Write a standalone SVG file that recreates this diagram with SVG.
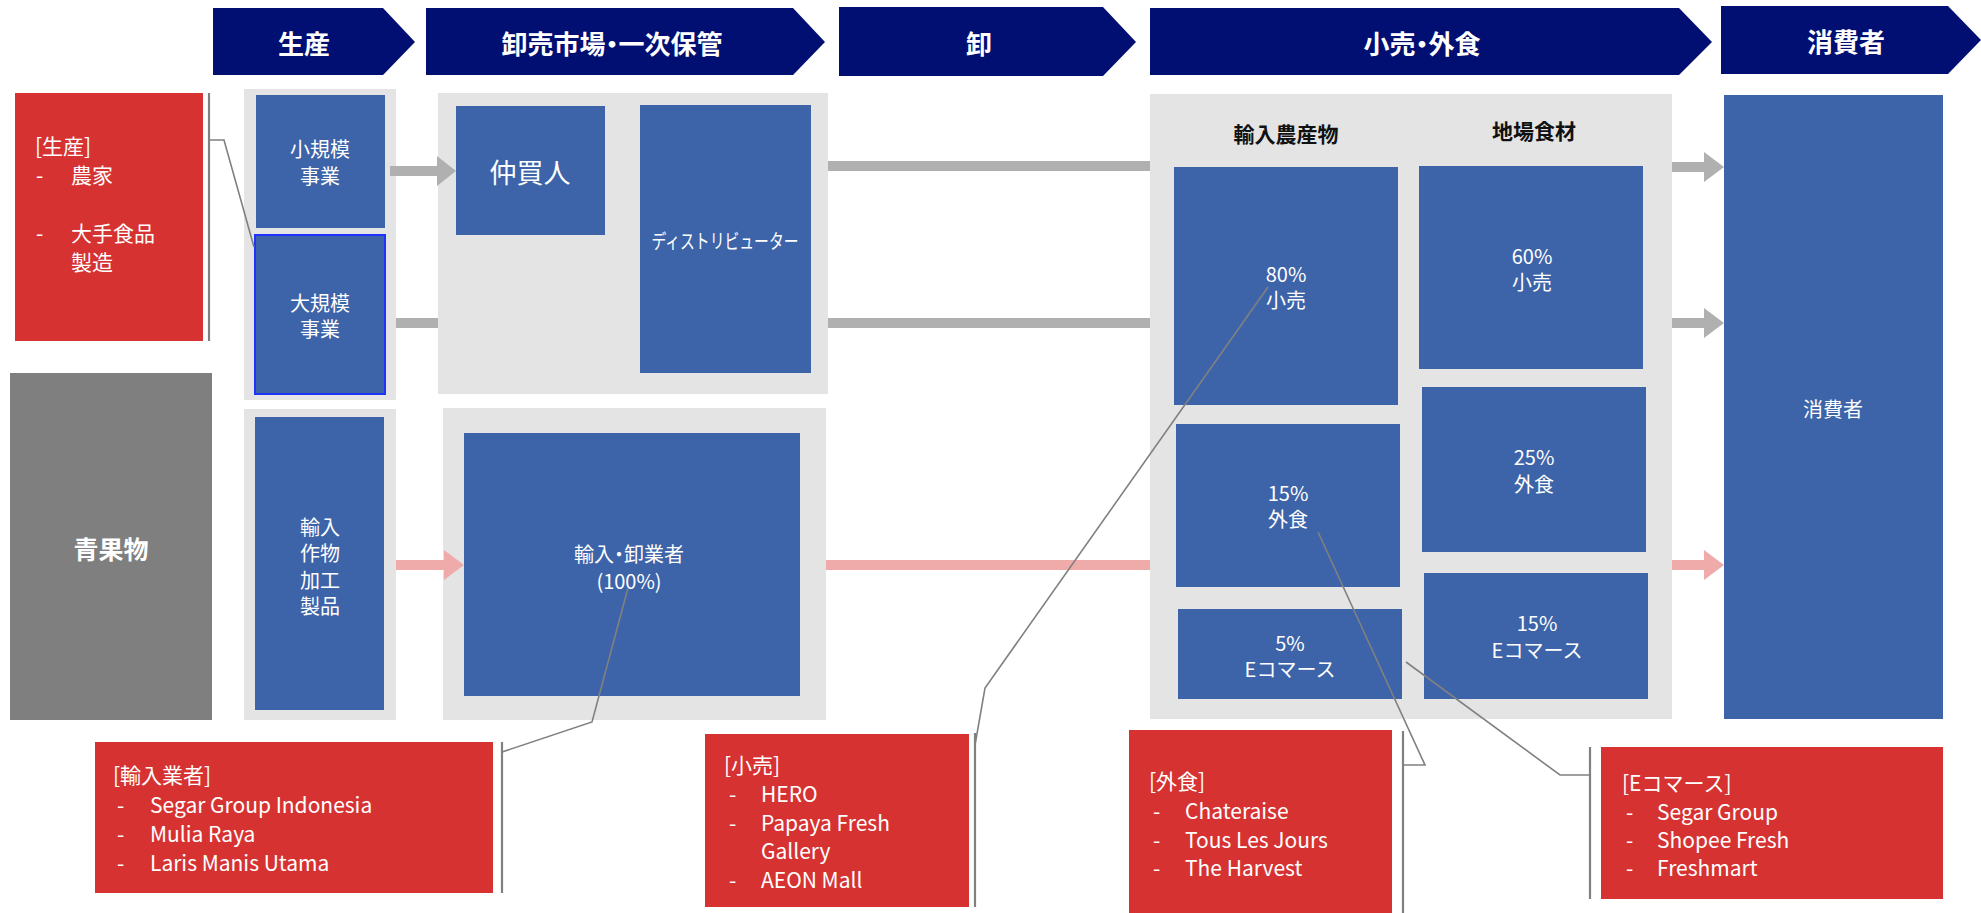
<svg xmlns="http://www.w3.org/2000/svg" width="1981" height="913" viewBox="0 0 1981 913">
<style>
text{font-family:"Noto Sans CJK JP","Noto Sans",sans-serif;}
.palt{font-feature-settings:"palt" 1;}
.hdr{fill:#000F71;}
.ht{fill:#fff;font-size:26px;font-weight:bold;text-anchor:middle;dominant-baseline:central;}
.cont{fill:#E4E4E4;}
.blue{fill:#3D64A9;}
.bt{fill:#fff;font-size:20px;text-anchor:middle;dominant-baseline:central;}
.red{fill:#D63232;}
.rt{fill:#fff;font-size:21px;dominant-baseline:central;}
.sub{fill:#111;font-size:21px;font-weight:bold;text-anchor:middle;dominant-baseline:central;}
.ga{fill:#B0B0B0;}
.pa{fill:#EFAAAA;}
.cl{fill:none;stroke:#808080;stroke-width:1.6;}
.br{fill:none;stroke:#808080;stroke-width:2.2;}
</style>

<g id="headers">
<g id="h1"><polygon class="hdr" points="213,8 383,8 415,42 383,75 213,75"/><text class="ht" x="304" y="42">生産</text></g>
<g id="h2"><polygon class="hdr" points="426,8 793,8 825,42 793,75 426,75"/><text class="ht palt" x="612" y="42">卸売市場・一次保管</text></g>
<g id="h3"><polygon class="hdr" points="839,7 1103,7 1136,42 1103,76 839,76"/><text class="ht" x="979" y="42">卸</text></g>
<g id="h4"><polygon class="hdr" points="1150,8 1679,8 1712,42 1679,75 1150,75"/><text class="ht palt" x="1422" y="42">小売・外食</text></g>
<g id="h5"><polygon class="hdr" points="1721,6 1948,6 1981,40 1948,74 1721,74"/><text class="ht" x="1846" y="40">消費者</text></g>
</g>

<g id="containers">
<rect class="cont" x="244" y="89" width="152" height="311"/>
<rect class="cont" x="438" y="93" width="390" height="301"/>
<rect class="cont" x="244" y="409" width="152" height="311"/>
<rect class="cont" x="443" y="408" width="383" height="312"/>
<rect class="cont" x="1150" y="94" width="522" height="625"/>
</g>

<g id="n-seisan-note">
<rect class="red" x="15" y="93" width="188" height="248"/>
<text class="rt" x="35" y="145">[生産]</text>
<text class="rt" x="36" y="174">-</text><text class="rt" x="71" y="174">農家</text>
<text class="rt" x="36" y="232">-</text><text class="rt" x="71" y="232">大手食品</text>
<text class="rt" x="71" y="261">製造</text>
</g>

<g id="n-seikabutsu">
<rect x="10" y="373" width="202" height="347" fill="#7F7F7F"/>
<text x="111" y="548" fill="#fff" font-size="25" font-weight="bold" text-anchor="middle" dominant-baseline="central">青果物</text>
</g>

<g id="n-small">
<rect class="blue" x="256" y="95" width="129" height="133"/>
<text class="bt" x="320" y="148">小規模</text><text class="bt" x="320" y="175">事業</text>
</g>
<g id="n-large">
<rect class="blue" x="255" y="235" width="130" height="159" stroke="#1F33FF" stroke-width="2"/>
<text class="bt" x="320" y="302">大規模</text><text class="bt" x="320" y="328">事業</text>
</g>
<g id="n-import-crop">
<rect class="blue" x="255" y="417" width="129" height="293"/>
<text class="bt" x="320" y="526">輸入</text><text class="bt" x="320" y="552">作物</text>
<text class="bt" x="320" y="579">加工</text><text class="bt" x="320" y="605">製品</text>
</g>

<g id="n-nakagai">
<rect class="blue" x="456" y="106" width="149" height="129"/>
<text class="bt" x="530" y="171" style="font-size:27px">仲買人</text>
</g>
<g id="n-distributor">
<rect class="blue" x="640" y="105" width="171" height="268"/>
<text class="bt" x="725" y="240" style="font-size:20px" textLength="147" lengthAdjust="spacingAndGlyphs">ディストリビューター</text>
</g>
<g id="n-importer">
<rect class="blue" x="464" y="433" width="336" height="263"/>
<text class="bt palt" x="629" y="553">輸入・卸業者</text><text class="bt" x="629" y="580">(100%)</text>
</g>

<g id="n-retail-heads">
<text class="sub" x="1286" y="133">輸入農産物</text>
<text class="sub" x="1534" y="130">地場食材</text>
</g>
<g id="n-imp-retail">
<rect class="blue" x="1174" y="167" width="224" height="238"/>
<text class="bt" x="1286" y="273">80%</text><text class="bt" x="1286" y="299">小売</text>
</g>
<g id="n-imp-food">
<rect class="blue" x="1176" y="424" width="224" height="163"/>
<text class="bt" x="1288" y="492">15%</text><text class="bt" x="1288" y="518">外食</text>
</g>
<g id="n-imp-ec">
<rect class="blue" x="1178" y="609" width="224" height="90"/>
<text class="bt" x="1290" y="642">5%</text><text class="bt" x="1290" y="668">Eコマース</text>
</g>
<g id="n-loc-retail">
<rect class="blue" x="1419" y="166" width="224" height="203"/>
<text class="bt" x="1532" y="255">60%</text><text class="bt" x="1532" y="281">小売</text>
</g>
<g id="n-loc-food">
<rect class="blue" x="1422" y="387" width="224" height="165"/>
<text class="bt" x="1534" y="456">25%</text><text class="bt" x="1534" y="483">外食</text>
</g>
<g id="n-loc-ec">
<rect class="blue" x="1424" y="573" width="224" height="126"/>
<text class="bt" x="1537" y="622">15%</text><text class="bt" x="1537" y="649">Eコマース</text>
</g>

<g id="n-consumer">
<rect class="blue" x="1724" y="95" width="219" height="624"/>
<text class="bt" x="1833" y="408">消費者</text>
</g>

<g id="n-importer-note">
<rect class="red" x="95" y="742" width="398" height="151"/>
<text class="rt" x="113" y="774">[輸入業者]</text>
<text class="rt" x="117" y="804">-</text><text class="rt" x="150" y="804">Segar Group Indonesia</text>
<text class="rt" x="117" y="833">-</text><text class="rt" x="150" y="833">Mulia Raya</text>
<text class="rt" x="117" y="862">-</text><text class="rt" x="150" y="862">Laris Manis Utama</text>
</g>
<g id="n-retail-note">
<rect class="red" x="705" y="734" width="264" height="173"/>
<text class="rt" x="724" y="764">[小売]</text>
<text class="rt" x="729" y="793">-</text><text class="rt" x="761" y="793">HERO</text>
<text class="rt" x="729" y="822">-</text><text class="rt" x="761" y="822">Papaya Fresh</text>
<text class="rt" x="761" y="850">Gallery</text>
<text class="rt" x="729" y="879">-</text><text class="rt" x="761" y="879">AEON Mall</text>
</g>
<g id="n-food-note">
<rect class="red" x="1129" y="730" width="263" height="183"/>
<text class="rt" x="1149" y="780">[外食]</text>
<text class="rt" x="1153" y="810">-</text><text class="rt" x="1185" y="810">Chateraise</text>
<text class="rt" x="1153" y="839">-</text><text class="rt" x="1185" y="839">Tous Les Jours</text>
<text class="rt" x="1153" y="867">-</text><text class="rt" x="1185" y="867">The Harvest</text>
</g>
<g id="n-ec-note">
<rect class="red" x="1601" y="747" width="342" height="152"/>
<text class="rt" x="1622" y="782">[Eコマース]</text>
<text class="rt" x="1626" y="811">-</text><text class="rt" x="1657" y="811">Segar Group</text>
<text class="rt" x="1626" y="839">-</text><text class="rt" x="1657" y="839">Shopee Fresh</text>
<text class="rt" x="1626" y="867">-</text><text class="rt" x="1657" y="867">Freshmart</text>
</g>

<g id="connectors">
<path class="ga" d="M390,166 H437 V156 L456,171 L437,186 V176 H390 Z"/>
<rect class="ga" x="396" y="318" width="42" height="10"/>
<rect class="ga" x="828" y="161" width="322" height="10"/>
<rect class="ga" x="828" y="318" width="322" height="10"/>
<path class="ga" d="M1672,162 H1704 V152 L1724,167 L1704,182 V172 H1672 Z"/>
<path class="ga" d="M1672,318 H1704 V308 L1724,323 L1704,338 V328 H1672 Z"/>
<path class="pa" d="M396,560 H444 V550 L464,565 L444,580 V570 H396 Z"/>
<rect class="pa" x="826" y="560" width="324" height="10"/>
<path class="pa" d="M1672,560 H1704 V550 L1724,565 L1704,580 V570 H1672 Z"/>
<line class="br" x1="209" y1="93" x2="209" y2="341"/>
<polyline class="cl" points="209,140 224,140 254,247"/>
<line class="br" x1="502" y1="742" x2="502" y2="893"/>
<polyline class="cl" points="628,588 592,722 502,752"/>
<line class="br" x1="975" y1="733" x2="975" y2="907"/>
<polyline class="cl" points="1268,287 985,688 975,745"/>
<line class="br" x1="1403" y1="731" x2="1403" y2="913"/>
<polyline class="cl" points="1318,532 1425,765 1403,765"/>
<line class="br" x1="1590" y1="747" x2="1590" y2="899"/>
<polyline class="cl" points="1406,662 1560,775 1590,775"/>
</g>
</svg>
